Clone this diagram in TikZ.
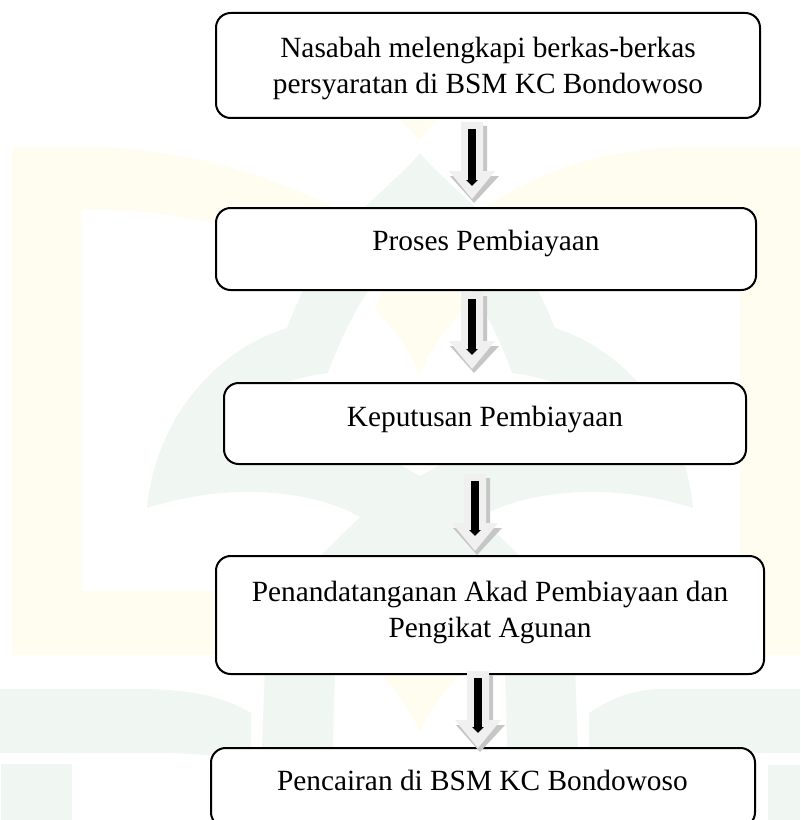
\documentclass[tikz,border=0pt]{standalone}
\usepackage{fontspec}
\setmainfont{Liberation Serif}
\usetikzlibrary{arrows.meta,calc}
\definecolor{wmgreen}{HTML}{F0F7F2}
\definecolor{wmyellow}{HTML}{FFFDF0}
\definecolor{arrowlight}{HTML}{F0F0F0}
\definecolor{arrowshade}{HTML}{C6C6C6}
\tikzset{
  flowbox/.style={draw=black,fill=white,line width=1.5pt,rounded corners=11pt,inner sep=0pt,outer sep=0pt,anchor=north west,font=\fontsize{22}{27}\selectfont},
  blackshaft/.style={line width=6pt,-{Triangle[width=8.5pt,length=4.5pt]},black},
  wmg/.style={fill=wmgreen,draw=none},
  wmy/.style={fill=wmyellow,draw=none}
}
% text at an offset from the centre of its box, with no size of its own
\newcommand\boxtext[3]{\raisebox{#2}[0pt][0pt]{\makebox[0pt]{\hspace*{#1}\begin{tabular}[b]{@{}c@{}}#3\end{tabular}}}}
\newlength\bw
\newlength\bh
% #1 name, #2 x, #3 y, #4 right, #5 bottom, #6 text
\newcommand\flowbox[6]{%
  \pgfmathsetlength\bw{(#4-#2)*0.75pt}%
  \pgfmathsetlength\bh{(#5-#3)*0.75pt}%
  \node[flowbox,minimum width=\bw,minimum height=\bh] (#1) at (#2,#3) {#6};}
% #1 from box, #2 to box, #3 x, #4 gap under from box, #5 gap over to box
\newcommand\flowarrow[5]{%
  \coordinate (ax) at (#3,0);
  \path (#1.south -| ax) ++(0,#4) coordinate (p#1);
  \begin{scope}[shift={(p#1)}]
    \fill[arrowshade] (-7,-3) -- (15,-3) -- (15,47) -- (27,47) -- (2,74) -- (-22,47) -- (-7,47) -- cycle;
    \fill[arrowlight] (-11,-7) -- (11,-7) -- (11,42) -- (23,42) -- (0,70) -- (-23,42) -- (-11,42) -- cycle;
  \end{scope}
  \draw[blackshaft,shorten <=#4*0.75pt,shorten >=#5*0.75pt] (#1.south -| ax) -- (#2.north -| ax);}
\begin{document}
\begin{tikzpicture}[x=0.75pt,y=-0.75pt]
\useasboundingbox (0,0) rectangle (800,820);
\clip (0,0) rectangle (800,820);
% watermark: yellow
\path[wmy] (12,147) -- (100,147) .. controls (190,150) and (270,175) .. (340,210) -- (340,240) -- (216,224) .. controls (170,213) and (130,210) .. (95,210) -- (82,210) -- (82,591) -- (400,591) -- (400,655) -- (12,655) -- cycle;
\path[wmy] (800,147) -- (680,147) .. controls (600,150) and (540,170) .. (480,210) -- (480,240) -- (740,240) -- (740,591) -- (600,591) -- (600,655) -- (800,655) -- cycle;
\path[wmy] (395,115) -- (442,115) -- (419,140) -- cycle;
% watermark: green dome
\path[wmg] (420,153) .. controls (385,195) and (325,225) .. (287,328) .. controls (215,350) and (155,420) .. (147,508)
  .. controls (190,495) and (220,492) .. (248,492) .. controls (290,492) and (330,500) .. (360,517)
  -- (321,555) -- (300,575) -- (540,575) -- (519,555) -- (480,517)
  .. controls (510,500) and (550,492) .. (592,492) .. controls (620,492) and (650,495) .. (693,508)
  .. controls (685,420) and (625,350) .. (555,328) .. controls (515,225) and (455,195) .. (420,153) -- cycle;
% white cut-outs in the dome
\fill[white] (372,285) .. controls (355,310) and (340,340) .. (328,373) .. controls (312,375) and (295,379) .. (280,385) -- (560,385) .. controls (545,379) and (528,375) .. (512,373) .. controls (500,340) and (485,310) .. (468,285) -- cycle;
\fill[white] (396,462) -- (445,462) -- (420,476) -- cycle;
\path[wmy] (385,285) -- (457,285) -- (463,310) .. controls (445,330) and (430,350) .. (419,375) .. controls (410,350) and (395,330) .. (375,310) -- cycle;
% watermark: lower letters
\path[wmg] (0,689) -- (140,689) .. controls (190,689) and (225,697) .. (251,713) -- (251,763) .. controls (225,755) and (190,753) .. (150,753) -- (0,753) -- cycle;
\path[wmg] (800,689) -- (660,689) .. controls (630,690) and (610,699) .. (589,713) -- (589,753) -- (800,753) -- cycle;
\path[wmg] (1,764) rectangle (72,820);
\path[wmg] (768,765) rectangle (800,820);
\path[wmg] (265,665) -- (262,748) -- (333,748) -- (335,665) -- cycle;
\path[wmg] (505,665) -- (507,748) -- (578,748) -- (575,665) -- cycle;
\path[wmy] (380,672) -- (463,672) .. controls (445,690) and (430,710) .. (420,732) .. controls (410,710) and (395,690) .. (380,672) -- cycle;
% boxes
\flowbox{b1}{216}{13}{760}{118}{\boxtext{0pt}{-21pt}{Nasabah melengkapi berkas-berkas\\persyaratan di BSM KC Bondowoso}}
\flowbox{b2}{216}{208}{756}{290}{\boxtext{0pt}{-0.75pt}{Proses Pembiayaan}}
\flowbox{b3}{224}{383}{746}{464}{\boxtext{0pt}{-2.25pt}{Keputusan Pembiayaan}}
\flowbox{b4}{216}{556}{764}{674}{\boxtext{0pt}{-16.5pt}{Penandatanganan Akad Pembiayaan dan\\Pengikat Agunan}}
\flowbox{b5}{211}{748}{755}{827}{\boxtext{-1pt}{-2.6pt}{Pencairan di BSM KC Bondowoso}}
% arrows
\flowarrow{b1}{b2}{472}{11}{22}
\flowarrow{b2}{b3}{472}{9}{28}
\flowarrow{b3}{b4}{475}{17}{20}
\flowarrow{b4}{b5}{478}{4}{15}
\end{tikzpicture}
\end{document}
